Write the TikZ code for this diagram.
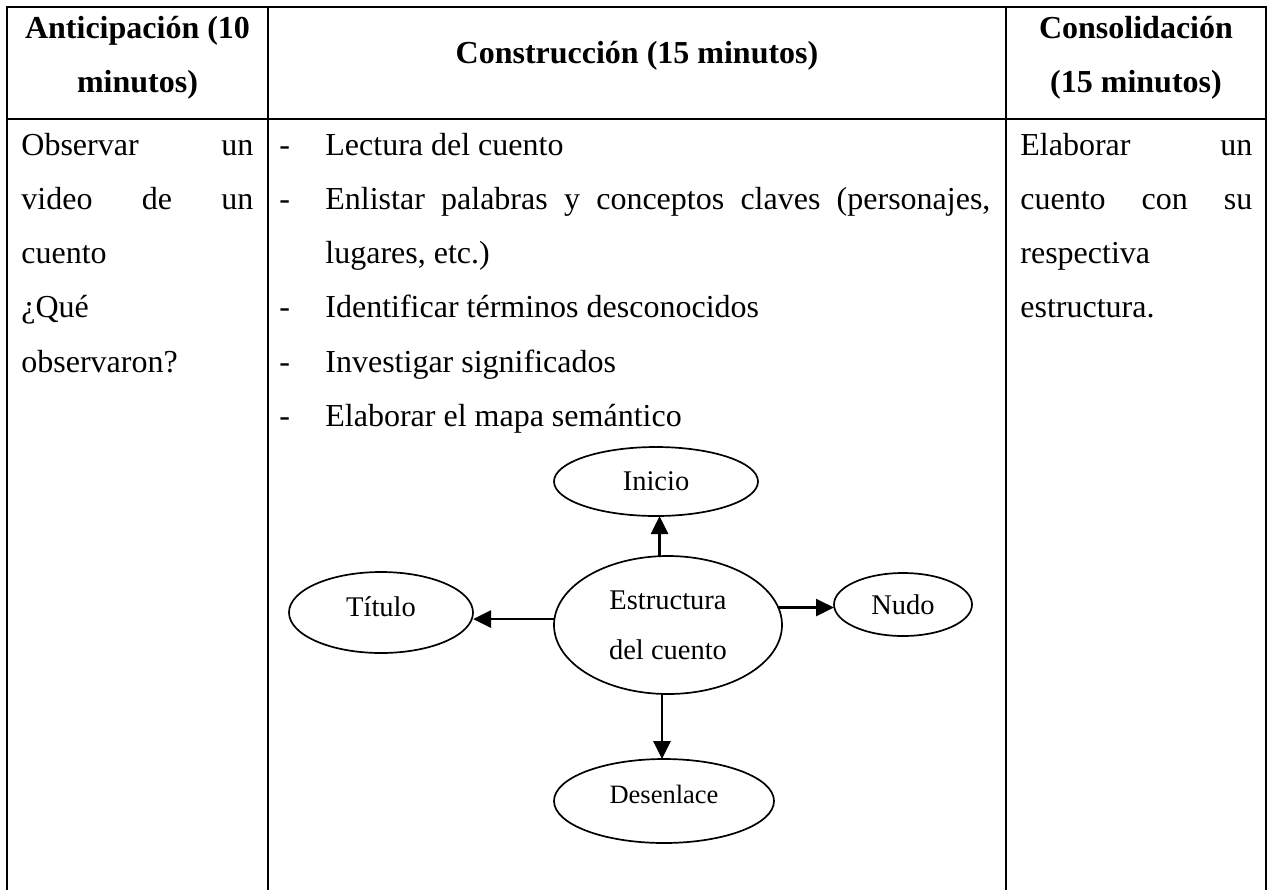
\documentclass[tikz,border=0pt]{standalone}
\usepackage{fontspec}
\setmainfont{Liberation Serif}
\usetikzlibrary{shapes.geometric,arrows.meta}
\begin{document}
\begin{tikzpicture}[x=0.5pt,y=-0.5pt,
  tline/.style={line width=1.2pt},
  txt/.style={anchor=base west, inner sep=0pt, font=\fontsize{16}{20}\selectfont},
  hdr/.style={anchor=base, inner sep=0pt, font=\fontsize{16}{20}\selectfont\bfseries},
  oval/.style={ellipse, draw, line width=0.85pt, inner sep=0pt, outer sep=0pt,
               font=\fontsize{14.25}{25}\selectfont, align=center},
  arr/.style={line width=1.4pt, -{Triangle[length=9pt,width=8.5pt]}}]
\useasboundingbox (0,0) rectangle (1274,890);
\fill[white] (0,0) rectangle (1274,890);
% table
\draw[tline] (7,890) -- (7,7) -- (1266,7) -- (1266,890);
\draw[tline] (7,119) -- (1266,119);
\draw[tline] (268,7) -- (268,890);
\draw[tline] (1006,7) -- (1006,890);
% headers
\node[hdr] (h1a) at (137.5,38) {Anticipación (10};
\node[hdr] (h1b) at (137.5,92) {minutos)};
\node[hdr] (h2) at (637,63) {Construcción (15 minutos)};
\node[hdr] (h3a) at (1136,38) {Consolidación};
\node[hdr] (h3b) at (1136,92) {(15 minutos)};
% column 1
\node[txt] (c1a) at (21,155) {\makebox[116pt][s]{Observar un}};
\node[txt] (c1b) at (21,209) {\makebox[116pt][s]{video de un}};
\node[txt] (c1c) at (21,263.5) {cuento};
\node[txt] (c1d) at (21,317.5) {¿Qué};
\node[txt] (c1e) at (21,372) {observaron?};
% column 2
\node[txt] (d1) at (279,155) {-};
\node[txt] (d2) at (279,209) {-};
\node[txt] (d4) at (279,317.5) {-};
\node[txt] (d5) at (279,372) {-};
\node[txt] (d6) at (279,426) {-};
\node[txt] (c2a) at (325,155) {Lectura del cuento};
\node[txt] (c2b) at (325,209) {\makebox[332.5pt][s]{Enlistar palabras y conceptos claves (personajes,}};
\node[txt] (c2c) at (325,263.5) {lugares, etc.)};
\node[txt] (c2d) at (325,317.5) {Identificar términos desconocidos};
\node[txt] (c2e) at (325,372) {Investigar significados};
\node[txt] (c2f) at (325,426) {Elaborar el mapa semántico};
% column 3
\node[txt] (c3a) at (1020,155) {\makebox[116pt][s]{Elaborar un}};
\node[txt] (c3b) at (1020,209) {\makebox[116pt][s]{cuento con su}};
\node[txt] (c3c) at (1020,263.5) {respectiva};
\node[txt] (c3d) at (1020,317.5) {estructura.};
% semantic map
\node[oval, minimum width=102pt, minimum height=34.5pt] (ini) at (656,481.5) {Inicio};
\node[oval, minimum width=114pt, minimum height=69pt] (est) at (668,625) {Estructura\\del cuento};
\node[oval, minimum width=92pt, minimum height=40.5pt, text depth=6pt] (tit) at (381,612.5) {Título};
\node[oval, minimum width=69pt, minimum height=31.5pt] (nudo) at (903,604.5) {Nudo};
\node[oval, minimum width=110pt, minimum height=42pt, text depth=7pt,
      font=\fontsize{13.25}{20}\selectfont] (des) at (664,801) {Desenlace};
\draw[arr] (est.97.45) -- (est.97.45 |- ini.south);
\draw[arr] (est.177.5) -- (est.177.5 -| tit.east);
\draw[arr] (est.9.83) -- (est.9.83 -| nudo.west);
\draw[arr] (est.265.44) -- (est.265.44 |- des.north);
\end{tikzpicture}
\end{document}
